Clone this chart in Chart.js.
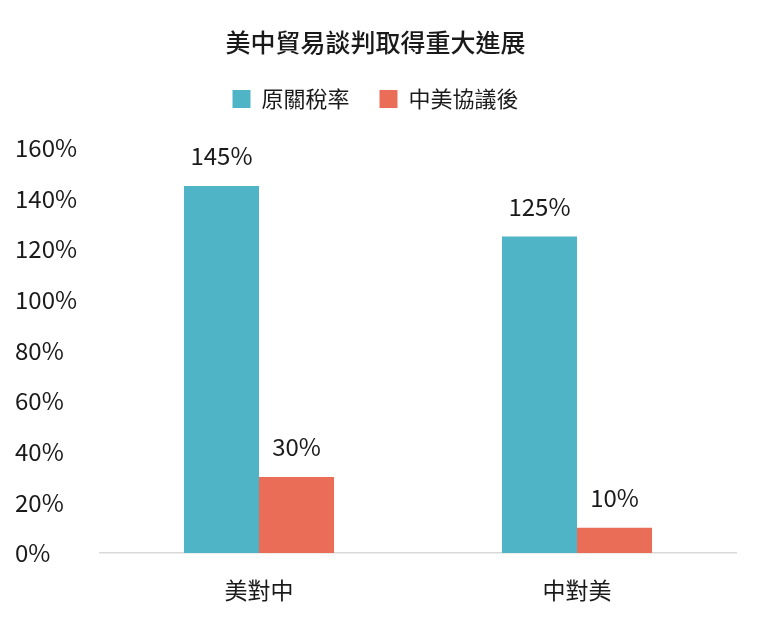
<!DOCTYPE html>
<html>
<head>
<meta charset="utf-8">
<script src="https://cdn.jsdelivr.net/npm/chart.js@4"></script>
<style>
  html, body { margin: 0; padding: 0; background: #fff; }
  #wrap { width: 760px; height: 625px; }
</style>
</head>
<body>
<div id="wrap"><canvas id="chart" width="760" height="625"></canvas></div>
<script>
const categories = ["美對中", "中對美"];
const seriesNames = ["原關稅率", "中美協議後"];
const originalRates = [145, 125];
const afterDeal = [30, 10];
const yTicks = [0, 20, 40, 60, 80, 100, 120, 140, 160];

const FONT = "'Noto Sans CJK TC', 'Noto Sans', sans-serif";
const TEXT = "#1a1a1a";

// Draw the value above each bar
const barLabels = {
  id: "barLabels",
  afterDatasetsDraw(chart) {
    const ctx = chart.ctx;
    ctx.save();
    ctx.font = "24px " + FONT;
    ctx.fillStyle = TEXT;
    ctx.textAlign = "center";
    ctx.textBaseline = "alphabetic";
    chart.data.datasets.forEach((ds, i) => {
      chart.getDatasetMeta(i).data.forEach((bar, j) => {
        ctx.fillText(ds.data[j] + "%", bar.x, bar.y - 21);
      });
    });
    ctx.restore();
  },
};

// Extra room under the legend
const legendGap = {
  id: "legendGap",
  beforeInit(chart) {
    const fit = chart.legend.fit;
    chart.legend.fit = function () {
      fit.bind(chart.legend)();
      this.height += 28;
    };
  },
};

new Chart(document.getElementById("chart"), {
  type: "bar",
  plugins: [barLabels, legendGap],
  data: {
    labels: categories,
    datasets: [
      { label: seriesNames[0], data: originalRates, backgroundColor: "#4fb5c6" },
      { label: seriesNames[1], data: afterDeal, backgroundColor: "#ea6e57" },
    ],
  },
  options: {
    responsive: false,
    animation: false,
    devicePixelRatio: 1,
    layout: { padding: { left: 15, right: 24, top: 0, bottom: 0 } },
    datasets: { bar: { categoryPercentage: 0.472, barPercentage: 1 } },
    plugins: {
      tooltip: { enabled: false },
      title: {
        display: true,
        text: "美中貿易談判取得重大進展",
        color: TEXT,
        font: { family: FONT, size: 25, weight: "500" },
        padding: { top: 27, bottom: 1 },
      },
      legend: {
        display: true,
        position: "top",
        labels: {
          color: TEXT,
          font: { family: FONT, size: 22 },
          boxWidth: 18,
          boxHeight: 18,
          padding: 30,
        },
      },
    },
    scales: {
      x: {
        grid: { display: false, drawTicks: false },
        border: { display: true, color: "#d9d9d9", width: 1.5 },
        ticks: { color: TEXT, font: { family: FONT, size: 23 }, padding: 23 },
        afterFit(scale) { scale.height = 72; },
      },
      y: {
        min: 0,
        max: 160,
        grid: { display: false, drawTicks: false },
        border: { display: false },
        afterBuildTicks(scale) { scale.ticks = yTicks.map(v => ({ value: v })); },
        ticks: {
          color: TEXT,
          font: { family: FONT, size: 24 },
          crossAlign: "far",
          callback: v => v + "%",
        },
        afterFit(scale) { scale.width = 85; },
      },
    },
  },
});
</script>
</body>
</html>
